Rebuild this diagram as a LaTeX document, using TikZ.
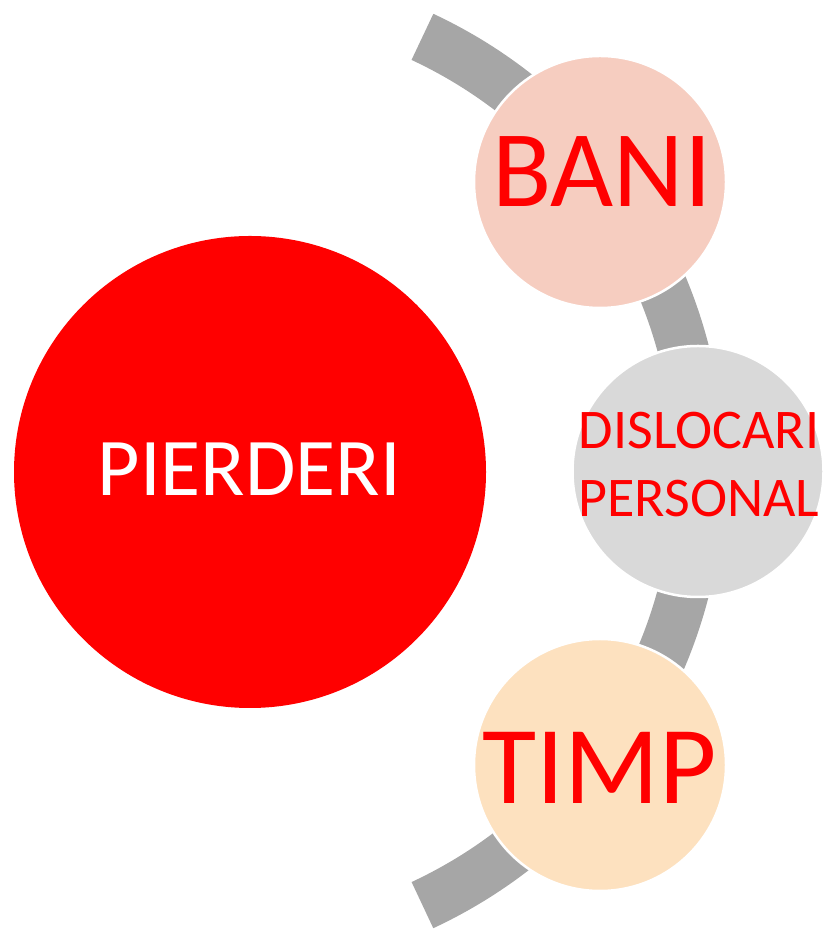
\documentclass[tikz,border=0pt]{standalone}
\usepackage{fontspec}
\setmainfont{Carlito}
\usetikzlibrary{calc}
\definecolor{arcgray}{HTML}{A6A6A6}
\definecolor{bigred}{HTML}{FF0000}
\definecolor{banifill}{HTML}{F6CDC0}
\definecolor{dislfill}{HTML}{D9D9D9}
\definecolor{timpfill}{HTML}{FDE1BF}
\begin{document}
\begin{tikzpicture}[x=1pt,y=1pt,
  smallcirc/.style={circle, draw=white, line width=2.5pt, inner sep=0pt, minimum size=252pt},
  bigcirc/.style={circle, fill=bigred, draw=none, inner sep=0pt, minimum size=472pt},
  lbl/.style={text=bigred, inner sep=0pt}]
\useasboundingbox (0,0) rectangle (827,931);
% arc band
\coordinate (arcc) at (220,460);
\coordinate (arcstart) at ($(arcc)+(-65:479)$);
\draw[arcgray, line width=51pt, line cap=butt] (arcstart) arc[start angle=-65, end angle=65, radius=479pt];
% big circle
\node[bigcirc] (pier) at (250,459) {};
\node[text=white, inner sep=0pt, font=\fontsize{82}{98}\selectfont] (pierlbl) at (249.5,461.5) {PIERDERI};
% small circles
\node[smallcirc, fill=banifill] (bani) at (600,749) {};
\node[smallcirc, fill=dislfill, minimum size=251pt] (disl) at (698,459.5) {};
\node[smallcirc, fill=timpfill] (timp) at (600,166) {};
\node[lbl, font=\fontsize{109}{130}\selectfont] (banilbl) at (602,759) {BANI};
\node[lbl, font=\fontsize{56}{68}\selectfont, align=center] (disllbl) at (699,466) {DISLOCARI\\PERSONAL};
\node[lbl, font=\fontsize{111}{130}\selectfont] (timplbl) at (599.5,163) {TIMP};
\end{tikzpicture}
\end{document}
